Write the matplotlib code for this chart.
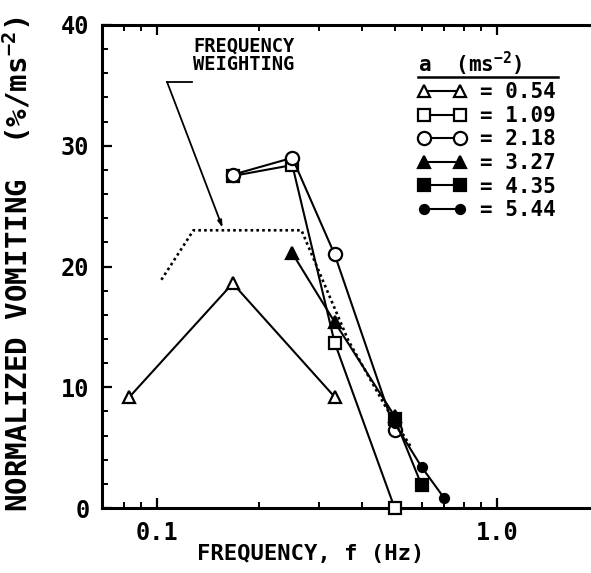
import matplotlib
matplotlib.use('Agg')
import matplotlib.pyplot as plt
from matplotlib.lines import Line2D
from matplotlib.ticker import FixedLocator, FixedFormatter, MultipleLocator, NullFormatter

plt.rcParams['font.family'] = ['DejaVu Sans Mono']
plt.rcParams['font.weight'] = 'bold'
plt.rcParams['axes.labelweight'] = 'bold'
plt.rcParams['mathtext.fontset'] = 'custom'
plt.rcParams['mathtext.rm'] = 'DejaVu Sans Mono:bold'
plt.rcParams['mathtext.it'] = 'DejaVu Sans Mono:bold'

# normalized vomiting (% per m/s^2) against frequency, one series per acceleration
accels = ['0.54', '1.09', '2.18', '3.27', '4.35', '5.44']

freq_054 = [0.083, 0.167, 0.333]
vom_054 = [9.2, 18.6, 9.2]

freq_109 = [0.167, 0.25, 0.333, 0.5]
vom_109 = [27.5, 28.4, 13.7, 0.0]

freq_218 = [0.167, 0.25, 0.333, 0.5]
vom_218 = [27.6, 29.0, 21.0, 6.5]

freq_327 = [0.25, 0.333, 0.5]
vom_327 = [21.1, 15.4, 7.6]

freq_435 = [0.5, 0.6]
vom_435 = [7.4, 1.9]

freq_544 = [0.5, 0.6, 0.7]
vom_544 = [7.0, 3.4, 0.8]

# frequency weighting curve
weight_freq = [0.103, 0.128, 0.266, 0.365, 0.47, 0.56]
weight_vals = [18.9, 23.0, 23.0, 13.9, 8.4, 5.0]

xticks = [0.1, 1.0]
xtick_labels = ['0.1', '1.0']
xminor = [0.08, 0.09, 0.2, 0.3, 0.4, 0.5, 0.6, 0.7, 0.8, 0.9]

fig = plt.figure(figsize=(5.91, 5.73), dpi=100)
ax = fig.add_axes([102 / 591, 65 / 573, 489 / 591, 483 / 573])

ax.set_xscale('log')
ax.set_xlim(0.0689, 1.89)
ax.set_ylim(0, 40)

series = [
    (freq_054, vom_054, '^', 'white', 9),
    (freq_109, vom_109, 's', 'white', 9),
    (freq_218, vom_218, 'o', 'white', 9.5),
    (freq_327, vom_327, '^', 'black', 9),
    (freq_435, vom_435, 's', 'black', 9),
    (freq_544, vom_544, 'o', 'black', 6.5),
]

handles = []
for (fx, vy, mk, face, ms), a in zip(series, accels):
    h, = ax.plot(fx, vy, color='black', lw=1.5, marker=mk, ms=ms,
                 mfc=face, mec='black', mew=1.6, label='= ' + a,
                 clip_on=False, zorder=3)
    handles.append(h)

ax.plot(weight_freq, weight_vals, color='black', lw=1.9, ls=(0, (1, 1.2)), zorder=2)

# label with leader line pointing at the weighting curve
ax.text(0.1275, 37.5, 'FREQUENCY\nWEIGHTING', fontsize=13.5, ha='left', va='center',
        linespacing=0.95)
ax.plot([0.107, 0.127], [35.3, 35.3], color='black', lw=1.3)
ax.annotate('', xy=(0.156, 23.2), xytext=(0.107, 35.3),
            arrowprops=dict(arrowstyle='-|>,head_length=0.4,head_width=0.12',
                            color='black', lw=1.3, shrinkA=0, shrinkB=0))

# axes styling
for side in ['left', 'bottom', 'top']:
    ax.spines[side].set_linewidth(2.2)
ax.spines['right'].set_visible(False)

ax.xaxis.set_major_locator(FixedLocator(xticks))
ax.xaxis.set_major_formatter(FixedFormatter(xtick_labels))
ax.xaxis.set_minor_locator(FixedLocator(xminor))
ax.xaxis.set_minor_formatter(NullFormatter())
ax.yaxis.set_major_locator(MultipleLocator(10))
ax.yaxis.set_minor_locator(MultipleLocator(2))

ax.tick_params(axis='x', which='both', direction='in', top=True, bottom=True)
ax.tick_params(axis='y', which='both', direction='in', left=True, right=False)
ax.tick_params(which='major', length=7, width=1.6, labelsize=17, pad=9)
ax.tick_params(which='minor', length=4, width=1.4)

ax.set_xlabel('FREQUENCY, f (Hz)', fontsize=16, fontweight='bold')
ax.xaxis.set_label_coords(0.427, -0.075)
ax.set_ylabel('NORMALIZED VOMITING  (%/ms$^{-2}$)', fontsize=21, fontweight='bold')
ax.yaxis.set_label_coords(-0.14, 0.505)

leg = ax.legend(handles=handles, loc='upper left',
                bbox_to_anchor=(418 / 591, (573 - 50) / 573),
                bbox_transform=fig.transFigure, frameon=False,
                title='a  (ms$^{-2}$)', fontsize=15, title_fontsize=15,
                handlelength=2.3, handletextpad=0.7, labelspacing=0.17,
                borderpad=0, borderaxespad=0, numpoints=2)
leg._legend_box.align = 'left'
leg._legend_box.sep = 3

# underline the legend title
fig.canvas.draw()
inv = fig.transFigure.inverted()
tb = leg.get_title().get_window_extent()
lb = leg.get_window_extent()
x0, y0 = inv.transform((lb.x0, tb.y0 + 1))
x1, _ = inv.transform((lb.x1 + 2, tb.y0 + 1))
fig.add_artist(Line2D([x0, x1], [y0, y0], transform=fig.transFigure,
                      color='black', lw=1.8))

fig.savefig('out.png', dpi=100)
